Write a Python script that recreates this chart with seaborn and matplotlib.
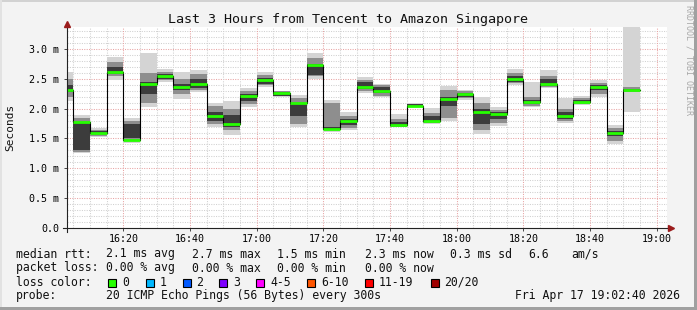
import matplotlib
matplotlib.use("Agg")
import matplotlib.pyplot as plt
from matplotlib.patches import Rectangle
from matplotlib.lines import Line2D
import numpy as np
import pandas as pd
import seaborn as sns

# ---------------- data ----------------
title = "Last 3 Hours from Tencent to Amazon Singapore"
# bin end times in minutes after 16:00 (5-minute steps)
bin_end = [5, 10, 15, 20, 25, 30, 35, 40, 45, 50, 55, 60, 65, 70, 75, 80, 85, 90,
           95, 100, 105, 110, 115, 120, 125, 130, 135, 140, 145, 150, 155, 160, 165, 170, 175]
median = [2.31, 1.77, 1.60, 2.61, 1.47, 2.41, 2.55, 2.36, 2.41, 1.87, 1.74, 2.21, 2.48, 2.26,
          2.10, 2.73, 1.66, 1.80, 2.37, 2.29, 1.73, 2.05, 1.80, 2.17, 2.24, 1.94, 1.91, 2.50,
          2.11, 2.41, 1.87, 2.11, 2.37, 1.60, 2.31]
smoke_lo = [2.12, 1.25, 1.53, 2.48, 1.42, 2.03, 2.45, 2.17, 2.28, 1.69, 1.56, 2.03, 2.37, 2.19,
            1.69, 2.49, 1.61, 1.64, 2.26, 2.19, 1.69, 2.02, 1.74, 1.80, 2.15, 1.58, 1.71, 2.40,
            2.03, 2.34, 1.76, 2.06, 2.19, 1.41, 1.95]
smoke_hi = [2.62, 1.89, 1.67, 2.86, 1.84, 2.94, 2.66, 2.61, 2.65, 2.10, 2.12, 2.34, 2.61, 2.30,
            2.23, 2.94, 2.15, 1.95, 2.53, 2.42, 1.91, 2.10, 2.01, 2.38, 2.31, 2.20, 2.02, 2.66,
            2.45, 2.65, 2.18, 2.21, 2.48, 1.73, 3.40]
mid_lo = [2.20, 1.28, 1.55, 2.55, 1.45, 2.10, 2.48, 2.25, 2.32, 1.75, 1.65, 2.08, 2.40, 2.21,
          1.75, 2.55, 1.65, 1.68, 2.30, 2.22, 1.70, 2.03, 1.76, 1.85, 2.18, 1.65, 1.76, 2.43,
          2.05, 2.36, 1.80, 2.08, 2.25, 1.45, 2.28]
mid_hi = [2.50, 1.85, 1.65, 2.78, 1.80, 2.59, 2.62, 2.50, 2.58, 2.05, 2.00, 2.30, 2.56, 2.29,
          2.18, 2.85, 2.10, 1.88, 2.48, 2.40, 1.82, 2.08, 1.92, 2.32, 2.29, 2.10, 1.98, 2.60,
          2.20, 2.55, 2.00, 2.18, 2.43, 1.68, 2.36]
core_lo = [2.28, 1.31, 1.57, 2.58, 1.50, 2.25, 2.50, 2.32, 2.35, 1.80, 1.70, 2.12, 2.42, 2.22,
           1.88, 2.57, 1.64, 1.72, 2.33, 2.26, 1.72, 2.03, 1.77, 2.05, 2.20, 1.75, 1.82, 2.45,
           2.08, 2.38, 1.82, 2.09, 2.32, 1.55, 2.29]
core_hi = [2.40, 1.76, 1.63, 2.70, 1.75, 2.45, 2.58, 2.42, 2.50, 1.95, 1.90, 2.25, 2.52, 2.28,
           2.08, 2.75, 1.70, 1.82, 2.45, 2.37, 1.78, 2.07, 1.87, 2.20, 2.27, 2.00, 1.95, 2.55,
           2.15, 2.50, 1.95, 2.15, 2.40, 1.63, 2.33]

y_ticks = [0.0, 0.5, 1.0, 1.5, 2.0, 2.5, 3.0]
y_labels = ["0.0", "0.5 m", "1.0 m", "1.5 m", "2.0 m", "2.5 m", "3.0 m"]
x_ticks = [20, 40, 60, 80, 100, 120, 140, 160, 180]
x_labels = ["16:20", "16:40", "17:00", "17:20", "17:40", "18:00", "18:20", "18:40", "19:00"]

stats_rtt = ["median rtt:", "2.1 ms avg", "2.7 ms max", "1.5 ms min", "2.3 ms now",
             "0.3 ms sd", "6.6", "am/s"]
stats_loss = ["packet loss:", "0.00 % avg", "0.00 % max", "0.00 % min", "0.00 % now"]
loss_labels = ["0", "1", "2", "3", "4-5", "6-10", "11-19", "20/20"]
loss_colors = ["#26ff00", "#00b8ff", "#0059ff", "#7e00ff", "#ff00ff", "#ff5500", "#ff0000", "#a00000"]
probe_text = "20 ICMP Echo Pings (56 Bytes) every 300s"
date_text = "Fri Apr 17 19:02:40 2026"

# ---------------- figure ----------------
W, H = 697, 310
MONO = "DejaVu Sans Mono"
plt.rcParams["font.family"] = [MONO]

fig = plt.figure(figsize=(W / 100, H / 100), dpi=100, facecolor="#f3f3f3")
def fx(px): return px / W
def fy(py): return 1 - py / H

ax = fig.add_axes([fx(67), fy(228), 600 / W, 201 / H])
ax.set_facecolor("white")
x0, x1 = 3.1, 183.1
y1 = (228 - 27) / 59.67
ax.set_xlim(x0, x1)
ax.set_ylim(0, y1)
for s in ax.spines.values():
    s.set_visible(False)

# grid
dot = (0, (1, 1.3))
for v in np.arange(0.1, y1, 0.1):
    major = abs(v / 0.5 - round(v / 0.5)) < 1e-6
    ax.axhline(v, color="#e8a4a4" if major else "#d0d0d0", lw=0.75, ls=dot, zorder=0.5)
for m in range(5, 185, 5):
    major = m % 20 == 0
    ax.axvline(m, color="#e8a4a4" if major else "#d0d0d0", lw=0.75, ls=dot, zorder=0.5)

starts = [t - 5 for t in bin_end]
lo = np.array(smoke_lo); hi = np.array(smoke_hi)
ax.bar(starts, hi - lo, bottom=lo, width=5, align="edge", color="#d4d4d4", lw=0, zorder=1)
ax.bar(starts, np.array(mid_hi) - np.array(mid_lo), bottom=mid_lo, width=5, align="edge",
       color="#8e8e8e", lw=0, zorder=1.1)
ax.bar(starts, np.array(core_hi) - np.array(core_lo), bottom=core_lo, width=5, align="edge",
       color="#3c3c3c", lw=0, zorder=1.2)

# median step line (black connectors) via seaborn
step_df = pd.DataFrame({"t": [0] + bin_end, "rtt": [median[0]] + median})
sns.lineplot(data=step_df, x="t", y="rtt", drawstyle="steps-pre", color="black",
             lw=0.8, estimator=None, ax=ax, zorder=2)
ax.hlines(median, starts, bin_end, color="#26ff00", lw=2.0, zorder=3)

ax.set_xlabel("")
ax.set_ylabel("")
ax.set_xticks(x_ticks)
ax.set_xticklabels(x_labels)
ax.set_yticks(y_ticks)
ax.set_yticklabels(y_labels)
ax.tick_params(axis="both", labelsize=7.2, length=2, width=0.7, color="#444444")
ax.tick_params(axis="y", pad=3.6)
ax.tick_params(axis="x", pad=2.6)

# axes lines with arrows
fig.add_artist(Line2D([fx(67), fx(67)], [fy(232), fy(25)], color="#222222", lw=0.8))
fig.add_artist(Line2D([fx(63), fx(669)], [fy(228), fy(228)], color="#222222", lw=0.8))
fig.add_artist(Line2D([fx(67)], [fy(23.5)], marker="^", ms=4.5, color="#9b1c1c", lw=0))
fig.add_artist(Line2D([fx(671)], [fy(228)], marker=">", ms=4.5, color="#9b1c1c", lw=0))

# texts
fig.text(0.5, fy(19), title, ha="center", va="center", size=9.6, color="#111111")
fig.text(fx(10), fy(127), "Seconds", rotation=90, ha="center", va="center", size=8.0,
         color="#111111")
fig.text(fx(688.5), fy(5), "RRDTOOL / TOBI OETIKER", rotation=270, ha="center", va="top",
         size=6.0, color="#a8a8a8")

LS = 8.3
rtt_x = [16, 106, 192, 277, 365, 450, 528, 571]
for s, x in zip(stats_rtt, rtt_x):
    fig.text(fx(x), fy(254), s, ha="left", va="center", size=LS, color="#111111")
loss_x = [16, 106, 192, 277, 365]
for s, x in zip(stats_loss, loss_x):
    fig.text(fx(x), fy(268), s, ha="left", va="center", size=LS, color="#111111")
fig.text(fx(16), fy(282), "loss color:", ha="left", va="center", size=LS, color="#111111")
box_x = [108, 145.5, 182.5, 219, 256, 307, 365, 430.5]
for lab, col, bx in zip(loss_labels, loss_colors, box_x):
    fig.add_artist(Rectangle((fx(bx), fy(286.5)), 8 / W, 8 / H, transform=fig.transFigure,
                             facecolor=col, edgecolor="black", lw=0.8))
    fig.text(fx(bx + 14), fy(282), lab, ha="left", va="center", size=LS, color="#111111")
fig.text(fx(16), fy(296), "probe:", ha="left", va="center", size=LS, color="#111111")
fig.text(fx(106), fy(296), probe_text, ha="left", va="center", size=LS, color="#111111")
fig.text(fx(680), fy(296), date_text, ha="right", va="center", size=LS, color="#111111")

# frame
fig.add_artist(Rectangle((0, fy(2)), 1, 2 / H, transform=fig.transFigure, color="#d2d2d2", lw=0))
fig.add_artist(Rectangle((0, 0), 2 / W, 1, transform=fig.transFigure, color="#e2e2e2", lw=0))
fig.add_artist(Rectangle((0, 0), 1, 3 / H, transform=fig.transFigure, color="#a0a0a0", lw=0))
fig.add_artist(Rectangle((fx(694), 0), 3 / W, 1, transform=fig.transFigure, color="#a0a0a0", lw=0))

fig.savefig("out.png", dpi=100, facecolor=fig.get_facecolor())
